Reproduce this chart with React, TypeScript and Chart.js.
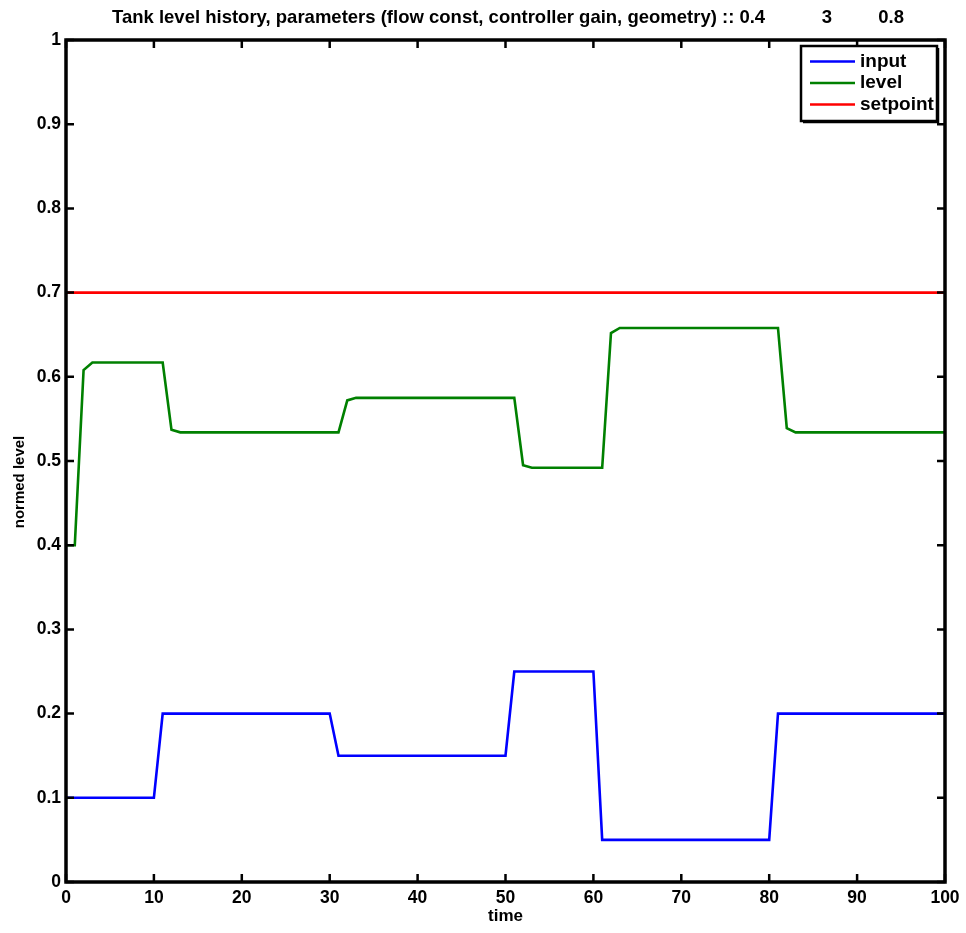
import React, { useEffect, useRef } from "react";
import { Chart, registerables } from "chart.js";

Chart.register(...registerables);

// time steps
const time: number[] = [
  0, 1, 2, 3, 4, 5, 6, 7, 8, 9,
  10, 11, 12, 13, 14, 15, 16, 17, 18, 19,
  20, 21, 22, 23, 24, 25, 26, 27, 28, 29,
  30, 31, 32, 33, 34, 35, 36, 37, 38, 39,
  40, 41, 42, 43, 44, 45, 46, 47, 48, 49,
  50, 51, 52, 53, 54, 55, 56, 57, 58, 59,
  60, 61, 62, 63, 64, 65, 66, 67, 68, 69,
  70, 71, 72, 73, 74, 75, 76, 77, 78, 79,
  80, 81, 82, 83, 84, 85, 86, 87, 88, 89,
  90, 91, 92, 93, 94, 95, 96, 97, 98, 99,
  100,
];

// input flow (per time step)
const inputValues: number[] = [
  0.1, 0.1, 0.1, 0.1, 0.1, 0.1, 0.1, 0.1, 0.1, 0.1,
  0.1, 0.2, 0.2, 0.2, 0.2, 0.2, 0.2, 0.2, 0.2, 0.2,
  0.2, 0.2, 0.2, 0.2, 0.2, 0.2, 0.2, 0.2, 0.2, 0.2,
  0.2, 0.15, 0.15, 0.15, 0.15, 0.15, 0.15, 0.15, 0.15, 0.15,
  0.15, 0.15, 0.15, 0.15, 0.15, 0.15, 0.15, 0.15, 0.15, 0.15,
  0.15, 0.25, 0.25, 0.25, 0.25, 0.25, 0.25, 0.25, 0.25, 0.25,
  0.25, 0.05, 0.05, 0.05, 0.05, 0.05, 0.05, 0.05, 0.05, 0.05,
  0.05, 0.05, 0.05, 0.05, 0.05, 0.05, 0.05, 0.05, 0.05, 0.05,
  0.05, 0.2, 0.2, 0.2, 0.2, 0.2, 0.2, 0.2, 0.2, 0.2,
  0.2, 0.2, 0.2, 0.2, 0.2, 0.2, 0.2, 0.2, 0.2, 0.2,
  0.2,
];

// tank level (per time step)
const levelValues: number[] = [
  0.4, 0.4, 0.608, 0.617, 0.617, 0.617, 0.617, 0.617, 0.617, 0.617,
  0.617, 0.617, 0.537, 0.534, 0.534, 0.534, 0.534, 0.534, 0.534, 0.534,
  0.534, 0.534, 0.534, 0.534, 0.534, 0.534, 0.534, 0.534, 0.534, 0.534,
  0.534, 0.534, 0.572, 0.575, 0.575, 0.575, 0.575, 0.575, 0.575, 0.575,
  0.575, 0.575, 0.575, 0.575, 0.575, 0.575, 0.575, 0.575, 0.575, 0.575,
  0.575, 0.575, 0.495, 0.492, 0.492, 0.492, 0.492, 0.492, 0.492, 0.492,
  0.492, 0.492, 0.652, 0.658, 0.658, 0.658, 0.658, 0.658, 0.658, 0.658,
  0.658, 0.658, 0.658, 0.658, 0.658, 0.658, 0.658, 0.658, 0.658, 0.658,
  0.658, 0.658, 0.539, 0.534, 0.534, 0.534, 0.534, 0.534, 0.534, 0.534,
  0.534, 0.534, 0.534, 0.534, 0.534, 0.534, 0.534, 0.534, 0.534, 0.534,
  0.534,
];

// setpoint
const setpointTime: number[] = [0, 100];
const setpointValues: number[] = [0.7, 0.7];

const seriesLabels: string[] = ["input", "level", "setpoint"];
const seriesColors: string[] = ["#0000ff", "#008000", "#ff0000"];

const xTicks: number[] = [0, 10, 20, 30, 40, 50, 60, 70, 80, 90, 100];
const yTicks: number[] = [0, 0.1, 0.2, 0.3, 0.4, 0.5, 0.6, 0.7, 0.8, 0.9, 1];

const titleText =
  "Tank level history, parameters (flow const, controller gain, geometry) :: 0.4           3         0.8";
const xTitle = "time";
const yTitle = "normed level";

const FONT = "'Liberation Sans', Arial, Helvetica, sans-serif";

const toPoints = (xs: number[], ys: number[]) => xs.map((x, i) => ({ x, y: ys[i] }));

const framePlugin = {
  id: "matlabFrame",
  afterDraw(chart: any) {
    const { ctx, chartArea } = chart;
    const { left, right, top, bottom } = chartArea;
    const xs = chart.scales.x;
    const ys = chart.scales.y;
    ctx.save();
    ctx.strokeStyle = "#000";
    ctx.lineCap = "butt";
    ctx.lineWidth = 2.5;
    const tl = 8;
    ctx.beginPath();
    xs.ticks.forEach((t: any) => {
      const p = xs.getPixelForValue(t.value);
      ctx.moveTo(p, bottom);
      ctx.lineTo(p, bottom - tl);
      ctx.moveTo(p, top);
      ctx.lineTo(p, top + tl);
    });
    ys.ticks.forEach((t: any) => {
      const p = ys.getPixelForValue(t.value);
      ctx.moveTo(left, p);
      ctx.lineTo(left + tl, p);
      ctx.moveTo(right, p);
      ctx.lineTo(right - tl, p);
    });
    ctx.stroke();
    ctx.lineWidth = 3.5;
    ctx.strokeRect(left, top, right - left, bottom - top);

    // title
    ctx.fillStyle = "#000";
    ctx.font = `bold 18.5px ${FONT}`;
    ctx.textAlign = "left";
    ctx.textBaseline = "middle";
    ctx.fillText(titleText, 112, 18);

    // y axis title
    ctx.save();
    ctx.translate(20, 482);
    ctx.rotate(-Math.PI / 2);
    ctx.font = `bold 15px ${FONT}`;
    ctx.textAlign = "center";
    ctx.textBaseline = "middle";
    ctx.fillText(yTitle, 0, 0);
    ctx.restore();

    // legend
    const bx = 801, by = 46, bw = 136, bh = 75;
    ctx.fillStyle = "#fff";
    ctx.fillRect(bx, by, bw, bh);
    ctx.lineWidth = 2.5;
    ctx.strokeStyle = "#000";
    ctx.strokeRect(bx, by, bw, bh);
    ctx.lineWidth = 1.5;
    ctx.beginPath();
    ctx.moveTo(bx + bw + 1.5, by + 2);
    ctx.lineTo(bx + bw + 1.5, by + bh + 1.5);
    ctx.lineTo(bx + 2, by + bh + 1.5);
    ctx.stroke();
    ctx.font = `bold 19px ${FONT}`;
    ctx.textAlign = "left";
    ctx.textBaseline = "middle";
    chart.data.datasets.forEach((ds: any, i: number) => {
      const yy = 61.5 + i * 21.5;
      ctx.strokeStyle = ds.borderColor;
      ctx.lineWidth = 2.6;
      ctx.beginPath();
      ctx.moveTo(810, yy);
      ctx.lineTo(855, yy);
      ctx.stroke();
      ctx.fillStyle = "#000";
      ctx.fillText(ds.label, 860, yy);
    });
    ctx.restore();
  },
};

export default function App() {
  const ref = useRef<HTMLCanvasElement | null>(null);
  useEffect(() => {
    document.body.style.margin = "0";
    const canvas = ref.current!;
    const chart = new Chart(canvas, {
      type: "line",
      data: {
        datasets: [
          {
            label: seriesLabels[0],
            data: toPoints(time, inputValues),
            borderColor: seriesColors[0],
            backgroundColor: seriesColors[0],
            borderWidth: 2.6,
            pointRadius: 0,
            tension: 0,
            fill: false,
          },
          {
            label: seriesLabels[1],
            data: toPoints(time, levelValues),
            borderColor: seriesColors[1],
            backgroundColor: seriesColors[1],
            borderWidth: 2.6,
            pointRadius: 0,
            tension: 0,
            fill: false,
          },
          {
            label: seriesLabels[2],
            data: toPoints(setpointTime, setpointValues),
            borderColor: seriesColors[2],
            backgroundColor: seriesColors[2],
            borderWidth: 2.6,
            pointRadius: 0,
            tension: 0,
            fill: false,
          },
        ],
      },
      options: {
        responsive: false,
        animation: false,
        devicePixelRatio: 1,
        layout: { padding: { left: 0, right: 21, top: 40, bottom: 0 } },
        plugins: {
          legend: { display: false },
          title: { display: false },
          tooltip: { enabled: false },
        },
        scales: {
          x: {
            type: "linear",
            min: 0,
            max: 100,
            afterBuildTicks: (s: any) => {
              s.ticks = xTicks.map((v) => ({ value: v }));
            },
            afterFit: (s: any) => {
              s.height = 51;
            },
            grid: { display: false, drawTicks: false, tickLength: 0 },
            border: { display: false },
            ticks: {
              color: "#000",
              padding: 6,
              maxRotation: 0,
              font: { family: FONT, size: 17.5, weight: "bold" },
              callback: (v: any) => String(v),
            },
            title: {
              display: true,
              text: xTitle,
              color: "#000",
              padding: { top: 0, bottom: 6 },
              font: { family: FONT, size: 17, weight: "bold" },
            },
          },
          y: {
            type: "linear",
            min: 0,
            max: 1,
            afterBuildTicks: (s: any) => {
              s.ticks = yTicks.map((v) => ({ value: v }));
            },
            afterFit: (s: any) => {
              s.width = 66;
            },
            grid: { display: false, drawTicks: false, tickLength: 0 },
            border: { display: false },
            ticks: {
              color: "#000",
              padding: 5,
              font: { family: FONT, size: 17.5, weight: "bold" },
              callback: (v: any) => String(Number(Number(v).toFixed(1))),
            },
            title: { display: false, text: yTitle },
          },
        },
      },
      plugins: [framePlugin],
    });
    return () => chart.destroy();
  }, []);
  return (
    <div style={{ width: 966, height: 933 }}>
      <canvas ref={ref} width={966} height={933} style={{ display: "block" }} />
    </div>
  );
}
